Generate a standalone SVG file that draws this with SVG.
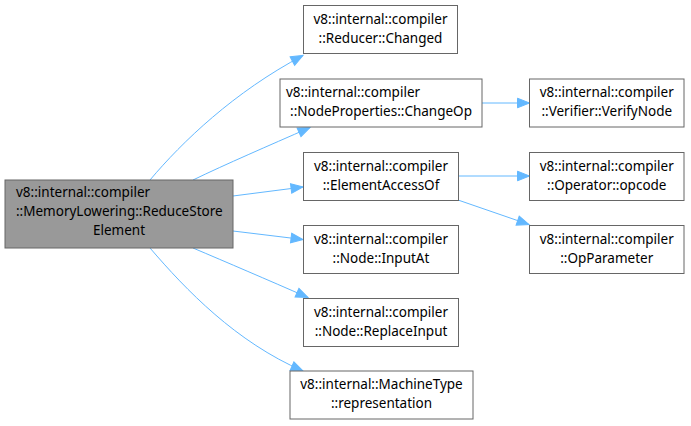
<svg xmlns="http://www.w3.org/2000/svg" width="691" height="426" viewBox="0 0 691 426">
<style>
.n rect{fill:#ffffff;stroke:#666666;stroke-width:1}
#n0 rect{fill:#999999}
text{font-family:"Noto Sans","Open Sans","DejaVu Sans",sans-serif;font-size:13.5px;fill:#000000}
.m{text-anchor:middle}
.s{text-anchor:start}
.e path{fill:none;stroke:#63b8ff;stroke-width:1;marker-end:url(#ah)}
</style>
<defs>
<marker id="ah" markerUnits="userSpaceOnUse" markerWidth="16" markerHeight="12" viewBox="0 -6 14 12" refX="12.5" refY="0" orient="auto">
<path d="M0.5,-4.8L12.5,0L0.5,4.8z" fill="#63b8ff" stroke="#63b8ff" stroke-width="1"/>
</marker>
</defs>
<g id="edges" class="e">
<path d="M150,180C182,142 234,92 303,55.5"/>
<path d="M193,180C226,164 268,146 310,127.5"/>
<path d="M233,196L303,187"/>
<path d="M233,231L303,239.5"/>
<path d="M193,248C226,262 268,280 308,297.5"/>
<path d="M150,248C186,290 236,342 303,371"/>
<path d="M482,103L529.5,103"/>
<path d="M458,176L529.5,176"/>
<path d="M458,200L529,224.5"/>
</g>
<g id="n0" class="n">
<rect x="5" y="180" width="228" height="68"/>
<text class="s" x="16" y="196.5">v8::internal::compiler</text>
<text class="s" x="16" y="215.5">::MemoryLowering::ReduceStore</text>
<text class="m" x="119" y="234.5">Element</text>
</g>
<g id="n1" class="n">
<rect x="303.5" y="5.5" width="154" height="48"/>
<text class="m" x="380.5" y="23.5">v8::internal::compiler</text>
<text class="m" x="380.5" y="42.5">::Reducer::Changed</text>
</g>
<g id="n2" class="n">
<rect x="280" y="79" width="202" height="48"/>
<text class="s" x="286" y="97">v8::internal::compiler</text>
<text class="m" x="381" y="116">::NodeProperties::ChangeOp</text>
</g>
<g id="n3" class="n">
<rect x="303.5" y="152.5" width="155" height="48"/>
<text class="m" x="381" y="170.5">v8::internal::compiler</text>
<text class="m" x="381" y="189.5">::ElementAccessOf</text>
</g>
<g id="n4" class="n">
<rect x="303.5" y="225.5" width="155" height="48"/>
<text class="m" x="381" y="243.5">v8::internal::compiler</text>
<text class="m" x="381" y="262.5">::Node::InputAt</text>
</g>
<g id="n5" class="n">
<rect x="303.5" y="298.5" width="155" height="48"/>
<text class="m" x="381" y="316.5">v8::internal::compiler</text>
<text class="m" x="381" y="335.5">::Node::ReplaceInput</text>
</g>
<g id="n6" class="n">
<rect x="290" y="371" width="183" height="48"/>
<text class="m" x="381.5" y="389">v8::internal::MachineType</text>
<text class="m" x="381.5" y="408">::representation</text>
</g>
<g id="n7" class="n">
<rect x="529.5" y="79" width="154.5" height="48"/>
<text class="m" x="606.75" y="97">v8::internal::compiler</text>
<text class="m" x="606.75" y="116">::Verifier::VerifyNode</text>
</g>
<g id="n8" class="n">
<rect x="529.5" y="152.5" width="154.5" height="48"/>
<text class="m" x="606.75" y="170.5">v8::internal::compiler</text>
<text class="m" x="606.75" y="189.5">::Operator::opcode</text>
</g>
<g id="n9" class="n">
<rect x="529.5" y="225.5" width="154.5" height="48"/>
<text class="m" x="606.75" y="243.5">v8::internal::compiler</text>
<text class="m" x="606.75" y="262.5">::OpParameter</text>
</g>
</svg>
